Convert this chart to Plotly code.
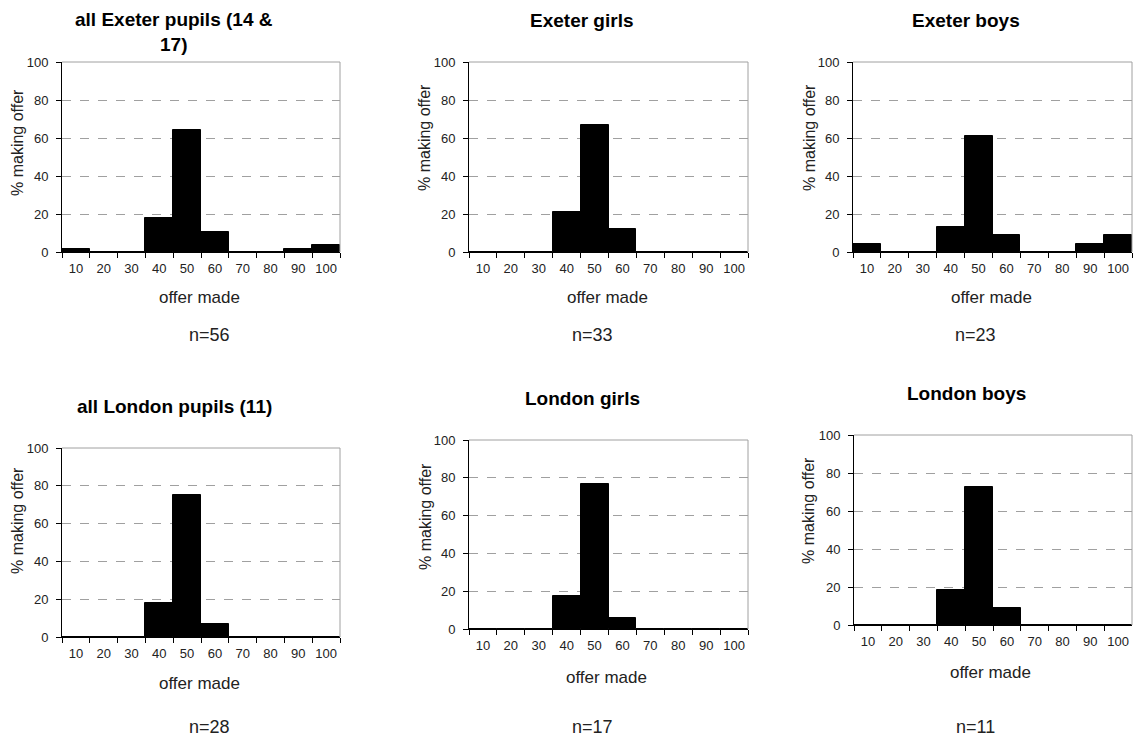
import plotly.graph_objects as go

W, H = 1136, 737

categories = ["10", "20", "30", "40", "50", "60", "70", "80", "90", "100"]
y_ticks = [0, 20, 40, 60, 80, 100]

exeter_all = [1.8, 0, 0, 17.9, 64.3, 10.7, 0, 0, 1.8, 3.6]
exeter_girls = [0, 0, 0, 21.2, 66.7, 12.1, 0, 0, 0, 0]
exeter_boys = [4.3, 0, 0, 13.0, 60.9, 8.7, 0, 0, 4.3, 8.7]
london_all = [0, 0, 0, 17.9, 75.0, 7.1, 0, 0, 0, 0]
london_girls = [0, 0, 0, 17.6, 76.5, 5.9, 0, 0, 0, 0]
london_boys = [0, 0, 0, 18.2, 72.7, 9.1, 0, 0, 0, 0]

titles = ["all Exeter pupils (14 &<br>17)", "Exeter girls", "Exeter boys",
          "all London pupils (11)", "London girls", "London boys"]
n_labels = ["n=56", "n=33", "n=23", "n=28", "n=17", "n=11"]
series = [exeter_all, exeter_girls, exeter_boys, london_all, london_girls, london_boys]

# layout geometry in pixels: plot rect (x0, x1, ytop, ybottom)
rects = [(62, 340, 62, 252), (469, 748, 62, 252), (853, 1132, 62, 252),
         (62, 340, 448, 637), (469, 748, 440, 629), (854, 1132, 435, 625)]
title_pos = [(174, 32), (582, 21), (966, 21), (174, 406), (582, 398), (967, 393)]
ytitle_pos = [(17, 143), (425, 137), (809, 138), (17, 521), (425, 516), (809, 511)]
xtitle_pos = [(199, 298), (607, 298), (991, 298), (199, 683), (606, 677), (990, 672)]
n_pos = [(209, 335), (592, 335), (975, 335), (209, 727), (592, 727), (975, 727)]

FONT = "Liberation Sans, Arial, sans-serif"

def px(x):
    return x / W

def py(y):
    return 1 - y / H

fig = go.Figure()
annotations = []
shapes = []
for i, (vals, r) in enumerate(zip(series, rects)):
    k = "" if i == 0 else str(i + 1)
    fig.add_trace(go.Bar(x=categories, y=vals, xaxis="x" + k, yaxis="y" + k,
                         marker=dict(color="black", line=dict(color="black", width=1)),
                         showlegend=False, hoverinfo="skip"))
    x0, x1, yt, yb = r
    fig.layout["xaxis" + k] = dict(
        domain=[px(x0), px(x1)], anchor="y" + k, type="category",
        categoryorder="array", categoryarray=categories,
        tickson="boundaries", ticks="outside", ticklen=5, tickcolor="black",
        tickangle=0, automargin=False, ticklabelstandoff=4,
        showline=True, linecolor="black", linewidth=1, showgrid=False,
        tickfont=dict(family=FONT, size=13, color="#222"), fixedrange=True)
    fig.layout["yaxis" + k] = dict(
        domain=[py(yb), py(yt)], anchor="x" + k, range=[0, 100],
        tickvals=y_ticks, ticks="outside", ticklen=5, tickcolor="black",
        automargin=False, ticklabelstandoff=5,
        showline=True, linecolor="black", linewidth=1,
        showgrid=True, gridcolor="#a0a0a0", griddash="dash", gridwidth=1,
        zeroline=False, tickfont=dict(family=FONT, size=13, color="#222"),
        fixedrange=True)
    # gray frame top and right
    shapes.append(dict(type="line", xref="x" + k + " domain", yref="y" + k + " domain",
                       x0=0, x1=1, y0=1, y1=1, line=dict(color="#a0a0a0", width=1)))
    shapes.append(dict(type="line", xref="x" + k + " domain", yref="y" + k + " domain",
                       x0=1, x1=1, y0=0, y1=1, line=dict(color="#a0a0a0", width=1)))
    tx, ty = title_pos[i]
    annotations.append(dict(text="<b>" + titles[i] + "</b>", x=px(tx), y=py(ty),
                            xanchor="center", yanchor="middle",
                            xref="paper", yref="paper", showarrow=False,
                            font=dict(family=FONT, size=19, color="black")))
    yx, yy = ytitle_pos[i]
    annotations.append(dict(text="% making offer", x=px(yx), y=py(yy), textangle=-90,
                            xanchor="center", yanchor="middle",
                            xref="paper", yref="paper", showarrow=False,
                            font=dict(family=FONT, size=16, color="#222")))
    ox, oy = xtitle_pos[i]
    annotations.append(dict(text="offer made", x=px(ox), y=py(oy),
                            xanchor="center", yanchor="middle",
                            xref="paper", yref="paper", showarrow=False,
                            font=dict(family=FONT, size=17, color="#222")))
    nx, ny = n_pos[i]
    annotations.append(dict(text=n_labels[i], x=px(nx), y=py(ny),
                            xanchor="center", yanchor="middle",
                            xref="paper", yref="paper", showarrow=False,
                            font=dict(family=FONT, size=18, color="#222")))

fig.update_layout(width=W, height=H, margin=dict(l=0, r=0, t=0, b=0, autoexpand=False),
                  paper_bgcolor="white", plot_bgcolor="white",
                  bargap=0, annotations=annotations, shapes=shapes,
                  showlegend=False, hovermode=False)

fig.write_html("out.html", config={"displayModeBar": False},
               post_script="document.body.style.margin='0';document.body.style.overflow='hidden';")
